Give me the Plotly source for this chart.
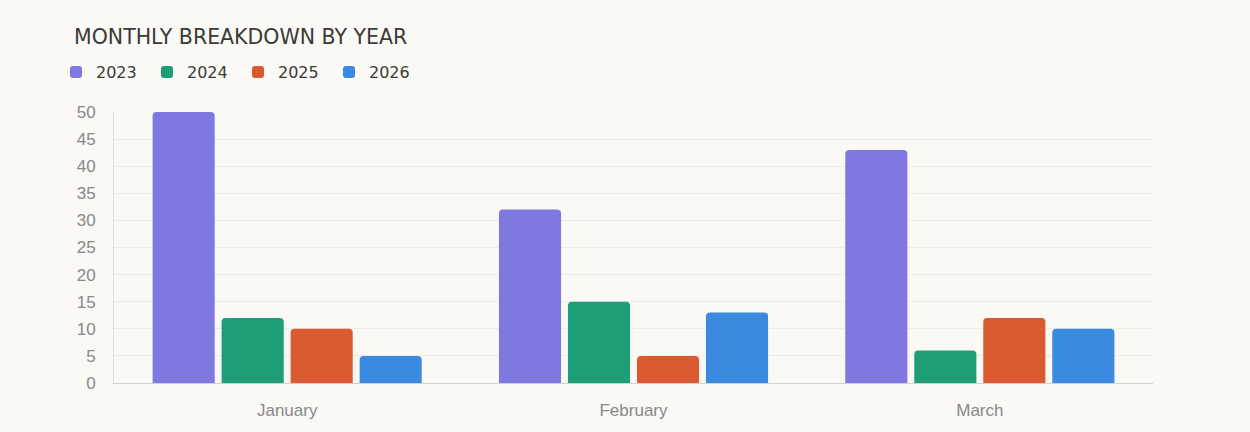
import plotly.graph_objects as go

months = ["January", "February", "March"]
years = ["2023", "2024", "2025", "2026"]
values = {
    "2023": [50, 32, 43],
    "2024": [12, 15, 6],
    "2025": [10, 5, 12],
    "2026": [5, 13, 10],
}
colors = {"2023": "#7f78e0", "2024": "#1e9e76", "2025": "#d95a30", "2026": "#3a8be0"}
BG = "#faf9f5"

fig = go.Figure()
for y in years:
    fig.add_trace(go.Bar(name=y, x=months, y=values[y], marker=dict(color=colors[y], line=dict(width=0))))

fig.update_layout(
    width=1250, height=432,
    paper_bgcolor=BG, plot_bgcolor=BG,
    margin=dict(l=114, r=97, t=112, b=49, autoexpand=False),
    barmode="group", bargap=0.203, bargroupgap=0.1, barcornerradius=4,
    title=dict(text="MONTHLY BREAKDOWN BY YEAR", x=74/1250, xanchor="left", y=1-37/432, yanchor="middle",
               font=dict(family="DejaVu Sans", size=20.5, color="#3a3a38")),
    legend=dict(orientation="h", x=56/1250, xref="container", xanchor="left", y=1-55/432, yref="container",
                yanchor="top", font=dict(family="DejaVu Sans", size=16, color="#3a3a38"),
                itemwidth=30, traceorder="normal", entrywidth=46, entrywidthmode="pixels"),
    font=dict(family="Liberation Sans, Arial", color="#888"),
)
fig.update_xaxes(showline=True, linecolor="#d0d0cc", linewidth=1, tickfont=dict(size=17, color="#888"),
                 ticks="", showgrid=False, ticklabelstandoff=12)
fig.update_yaxes(range=[0, 50], dtick=5, showgrid=True, gridcolor="#ecebe7", gridwidth=1,
                 showline=True, linecolor="#e0dfdb", tickfont=dict(size=17, color="#888"), zeroline=False,
                 ticks="", ticklen=0, ticklabelstandoff=14)
fig.write_html("out.html", config={"displayModeBar": False},
               post_script=f"document.body.style.margin='0';document.body.style.background='{BG}';")
